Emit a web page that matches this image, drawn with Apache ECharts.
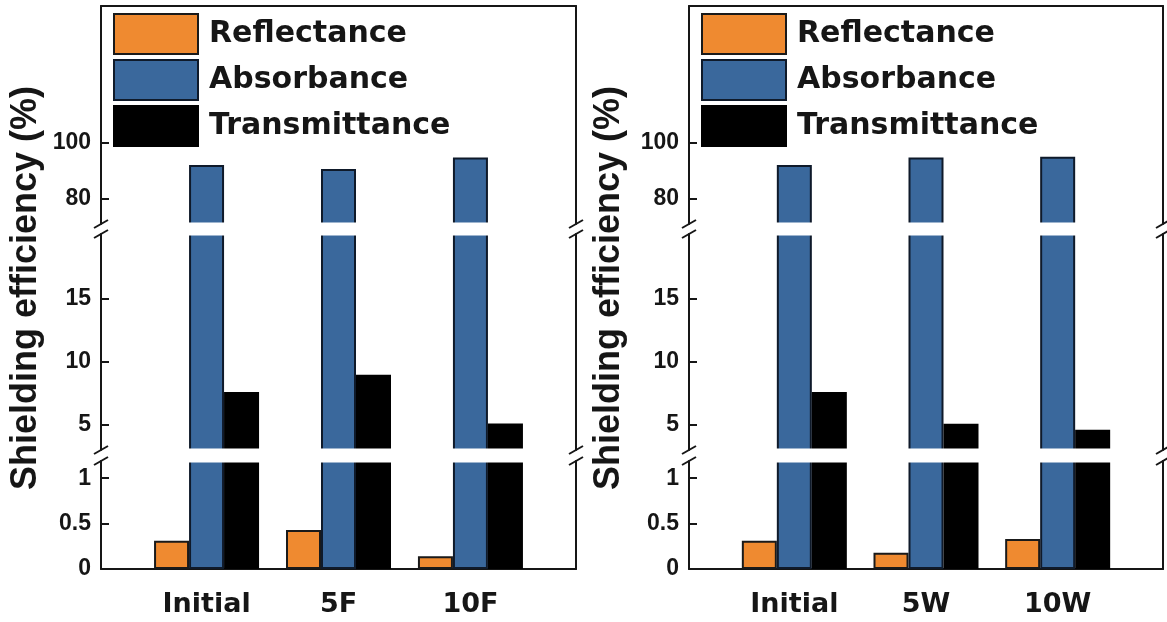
<!DOCTYPE html>
<html>
<head>
<meta charset="utf-8">
<script src="https://cdn.jsdelivr.net/npm/echarts@6/dist/echarts.min.js"></script>
<style>
  html, body { margin: 0; padding: 0; background: #fff; }
  #chart { width: 1167px; height: 622px; }
</style>
</head>
<body>
<div id="chart"></div>
<script>
// ---- data ----
const categoriesLeft = ['Initial', '5F', '10F'];
const categoriesRight = ['Initial', '5W', '10W'];
const reflectanceLeft = [0.31, 0.43, 0.14];
const absorbanceLeft = [92.1, 90.7, 94.75];
const transmittanceLeft = [7.6, 8.97, 5.1];
const reflectanceRight = [0.31, 0.18, 0.33];
const absorbanceRight = [92.1, 94.75, 95.1];
const transmittanceRight = [7.6, 5.08, 4.6];
const seriesNames = ['Reflectance', 'Absorbance', 'Transmittance'];
const yTitle = 'Shielding efficiency (%)';
// y-axis segments (broken axis): range and tick labels
const ticksTop = [80, 100];
const ticksMiddle = [5, 10, 15];
const ticksBottom = [0, 0.5, 1];
const rangeTop = [71, 149];
const rangeMiddle = [3, 20.16];
const rangeBottom = [0, 1.19];

// ---- layout / style ----
const colors = ['#EF8A30', '#3A689C', '#000000'];
const borderColors = ['#1a1a1a', '#0f1a2a', '#000000'];
const ink = '#161616';
const panels = [
  { left: 101, width: 475, cats: categoriesLeft, vals: [reflectanceLeft, absorbanceLeft, transmittanceLeft], titleX: 26 },
  { left: 689, width: 474, cats: categoriesRight, vals: [reflectanceRight, absorbanceRight, transmittanceRight], titleX: 609 }
];
const segments = [
  { top: 6, height: 218, range: rangeTop, ticks: ticksTop, kind: 'top' },
  { top: 234, height: 216, range: rangeMiddle, ticks: ticksMiddle, kind: 'mid' },
  { top: 461, height: 108, range: rangeBottom, ticks: ticksBottom, kind: 'bot' }
];
const xMin = 0, xMax = 3.6, xOffset = 0.8;

const grid = [], xAxis = [], yAxis = [], series = [], graphic = [], legend = [];
const lineStyle = { color: ink, width: 2 };
let g = 0;
panels.forEach((p, pi) => {
  segments.forEach((s) => {
    grid.push({ left: p.left, top: s.top, width: p.width, height: s.height, containLabel: false });
    xAxis.push({
      gridIndex: g, type: 'value', min: xMin, max: xMax,
      position: s.kind === 'top' ? 'top' : 'bottom',
      axisLine: { show: s.kind !== 'mid', onZero: false, lineStyle },
      axisTick: { show: false },
      splitLine: { show: false },
      axisLabel: {
        show: s.kind === 'bot',
        customValues: p.cats.map((c, i) => i + xOffset),
        formatter: (v) => p.cats[Math.round(v - xOffset)],
        fontFamily: 'DejaVu Sans', fontWeight: 'bold', fontSize: 27, color: ink, margin: 22
      }
    });
    yAxis.push({
      gridIndex: g, type: 'value', min: s.range[0], max: s.range[1], position: 'left',
      axisLine: { show: true, lineStyle },
      axisTick: { show: true, inside: true, length: 8, lineStyle, customValues: s.ticks },
      axisLabel: {
        customValues: s.ticks, margin: 10,
        fontFamily: 'Liberation Sans', fontWeight: 'bold', fontSize: 23, color: ink
      },
      splitLine: { show: false }
    });
    yAxis.push({
      gridIndex: g, type: 'value', min: s.range[0], max: s.range[1], position: 'right',
      axisLine: { show: true, lineStyle },
      axisTick: { show: false }, axisLabel: { show: false }, splitLine: { show: false }
    });
    p.vals.forEach((arr, k) => {
      series.push({
        type: 'bar', name: seriesNames[k], xAxisIndex: g, yAxisIndex: 2 * g,
        barWidth: 35, barGap: '0%', clip: true,
        itemStyle: { color: colors[k], borderColor: borderColors[k], borderWidth: 2 },
        data: arr.map((v, i) => [i + xOffset, v])
      });
    });
    g++;
  });
  legend.push({
    orient: 'vertical', left: p.left + 12, top: 13, padding: 0,
    itemWidth: 84, itemHeight: 40, itemGap: 4,
    icon: 'rect',
    data: seriesNames,
    textStyle: { fontFamily: 'DejaVu Sans', fontWeight: 'bold', fontSize: 30, color: ink, padding: [0, 0, 0, 6] },
    selectedMode: false
  });
  // y title
  graphic.push({
    type: 'text', x: p.titleX, y: 288, rotation: Math.PI / 2, z: 20,
    style: { text: yTitle, font: 'bold 36px "Liberation Sans"', fill: ink, textAlign: 'center', textVerticalAlign: 'middle' }
  });
  // white gaps through the bars and break marks on both vertical edges
  const gaps = [[segments[0].top + segments[0].height, segments[1].top], [segments[1].top + segments[1].height, segments[2].top]];
  gaps.forEach(([y1, y2]) => {
    graphic.push({ type: 'rect', z: 20, shape: { x: p.left + 2, y: y1 - 1.5, width: p.width - 4, height: y2 - y1 + 3 }, style: { fill: '#fff' } });
  });
  [p.left, p.left + p.width].forEach((x) => {
    gaps.forEach(([y1, y2]) => {
      [y1, y2].forEach((y) => {
        graphic.push({ type: 'line', z: 21, shape: { x1: x - 7, y1: y + 4, x2: x + 7, y2: y - 4 }, style: { stroke: ink, lineWidth: 2 } });
      });
    });
  });
});

const chart = echarts.init(document.getElementById('chart'), null, { renderer: 'canvas' });
chart.setOption({
  animation: false,
  backgroundColor: '#fff',
  grid, xAxis, yAxis, series, legend, graphic
});
</script>
</body>
</html>
